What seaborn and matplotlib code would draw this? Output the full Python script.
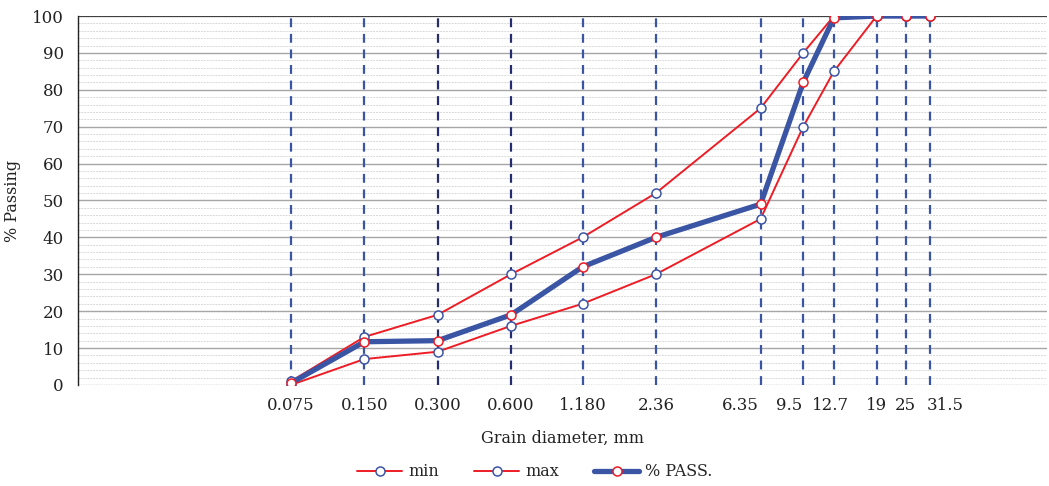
import matplotlib
matplotlib.use("Agg")
import matplotlib.pyplot as plt
import matplotlib.transforms as mtrans
import seaborn as sns
import numpy as np

# sieve sizes, mm
sieve_mm = [0.075, 0.150, 0.300, 0.600, 1.180, 2.36, 6.35, 9.5, 12.7, 19, 25, 31.5]
sieve_labels = ['0.075', '0.150', '0.300', '0.600', '1.180', '2.36',
                '6.35', '9.5', '12.7', '19', '25', '31.5']

# grading envelope and measured curve, % passing
min_pass = [1, 13, 19, 30, 40, 52, 75, 90, 100, 100, 100, 100]
max_pass = [0, 7, 9, 16, 22, 30, 45, 70, 85, 100, 100, 100]
pct_pass = [0.5, 11.7, 12, 19, 32, 40, 49, 82, 99.5, 100, 100, 100]

sns.set_style("white")
plt.rcParams['font.family'] = ['DejaVu Serif']

fig = plt.figure(figsize=(10.49, 4.86), dpi=100)
ax = fig.add_axes([0.0742, 0.208, 0.9237, 0.759])

red = '#EE1C25'
blue = '#3B55A5'

# horizontal grid: major every 10, minor every 2
for yv in np.arange(2, 100, 2):
    if yv % 10 == 0:
        ax.axhline(yv, color='#A6A6A6', lw=1.0, zorder=0)
    else:
        ax.axhline(yv, color='#D9D9D9', lw=0.7, ls=(0, (2, 1)), zorder=0)

# dashed verticals at each sieve size
line_cols = [blue, blue, '#262D6E', '#262D6E', blue, blue,
             blue, blue, blue, blue, blue, blue]
for xv, c in zip(sieve_mm, line_cols):
    ax.axvline(xv, color=c, lw=1.6, ls=(0, (4, 3)), zorder=1)

sns.lineplot(x=sieve_mm, y=min_pass, ax=ax, color=red, lw=1.4, marker='o',
             markersize=6.5, markerfacecolor='white', markeredgecolor=blue,
             markeredgewidth=1.1, label='min', zorder=3)
sns.lineplot(x=sieve_mm, y=max_pass, ax=ax, color=red, lw=1.4, marker='o',
             markersize=6.5, markerfacecolor='white', markeredgecolor=blue,
             markeredgewidth=1.1, label='max', zorder=3)
sns.lineplot(x=sieve_mm, y=pct_pass, ax=ax, color=blue, lw=3.8, marker='o',
             markersize=6.5, markerfacecolor='white', markeredgecolor=red,
             markeredgewidth=1.1, label='% PASS.', zorder=4)

ax.set_xscale('log')
ax.set_xlim(0.01, 95)
ax.set_ylim(0, 100)
ax.minorticks_off()
ax.set_xticks(sieve_mm)
ax.set_xticklabels(sieve_labels)
ax.set_yticks(range(0, 101, 10))
ax.tick_params(axis='x', length=0, pad=9, labelsize=12, colors='#222222')
ax.tick_params(axis='y', length=0, pad=10, labelsize=12, colors='#222222')

# labels in the reference sit off their lines in the crowded part
shifts = {'6.35': -20, '9.5': -14, '12.7': -3, '31.5': 15}
for lab in ax.get_xticklabels():
    dx = shifts.get(lab.get_text(), 0)
    if dx:
        lab.set_transform(lab.get_transform() +
                          mtrans.ScaledTranslation(dx / 100, 0, fig.dpi_scale_trans))

ax.axhline(100, color='#404040', lw=0.9, zorder=2)
ax.axhline(0, color='#404040', lw=0.9, ls=(0, (1, 1)), zorder=2)
for s in ['top', 'right', 'bottom']:
    ax.spines[s].set_visible(False)
ax.spines['left'].set_color('#222222')
ax.spines['left'].set_linewidth(1.0)

ax.set_xlabel('Grain diameter, mm', fontsize=11.5, labelpad=11, color='#222222')
ax.set_ylabel('% Passing', fontsize=11.5, labelpad=8, color='#222222')

ax.get_legend().remove()
handles, labels = ax.get_legend_handles_labels()
fig.legend(handles, labels, loc='lower center', bbox_to_anchor=(0.51, -0.018),
           ncol=3, frameon=False, fontsize=11.5, handlelength=2.8,
           columnspacing=2.2, handletextpad=0.4)

fig.savefig('out.png', dpi=100)
